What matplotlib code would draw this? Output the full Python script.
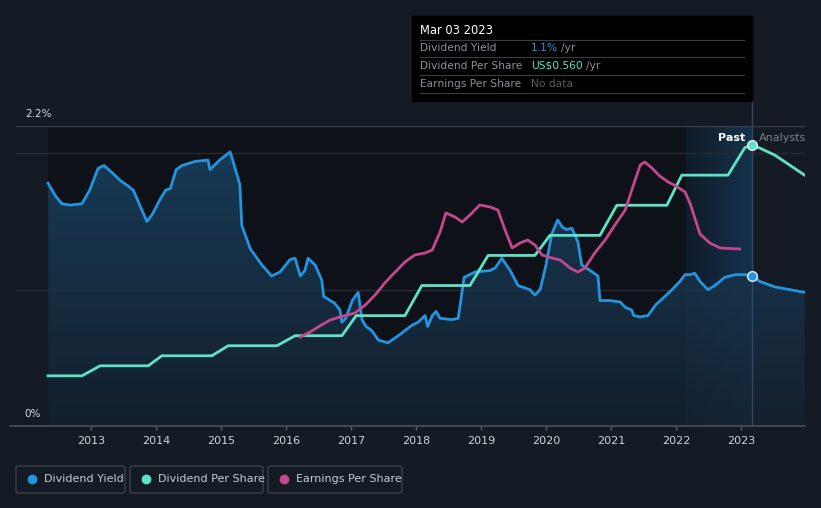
import matplotlib.pyplot as plt
import numpy as np
from matplotlib.patches import FancyBboxPatch, Rectangle

# dividend yield (%), decimal years
yield_x = [2012.34, 2012.45, 2012.55, 2012.68, 2012.86, 2012.98, 2013.11, 2013.20, 2013.32, 2013.45,
           2013.57, 2013.65, 2013.75, 2013.86, 2013.94, 2014.06, 2014.15, 2014.22, 2014.31, 2014.40,
           2014.60, 2014.80, 2014.83, 2014.98, 2015.14, 2015.18, 2015.29, 2015.32, 2015.45, 2015.63,
           2015.78, 2015.91, 2016.06, 2016.14, 2016.22, 2016.29, 2016.34, 2016.45, 2016.55, 2016.58,
           2016.75, 2016.83, 2016.86, 2016.92, 2017.02, 2017.11, 2017.17, 2017.23, 2017.32, 2017.42,
           2017.57, 2017.75, 2017.94, 2018.03, 2018.14, 2018.18, 2018.25, 2018.31, 2018.37, 2018.55,
           2018.65, 2018.74, 2018.91, 2019.14, 2019.22, 2019.32, 2019.45, 2019.57, 2019.75, 2019.83,
           2019.91, 2020.00, 2020.09, 2020.18, 2020.25, 2020.31, 2020.40, 2020.49, 2020.55, 2020.68,
           2020.80, 2020.83, 2020.98, 2021.14, 2021.22, 2021.32, 2021.35, 2021.45, 2021.57, 2021.69,
           2021.83, 2021.94, 2022.06, 2022.14, 2022.22, 2022.29, 2022.37, 2022.49, 2022.60, 2022.75,
           2022.91, 2023.06, 2023.17, 2023.29, 2023.52, 2023.75, 2023.98]
yield_y = [1.78, 1.69, 1.63, 1.62, 1.63, 1.73, 1.89, 1.91, 1.86, 1.80,
           1.76, 1.73, 1.62, 1.50, 1.55, 1.66, 1.73, 1.74, 1.88, 1.91,
           1.94, 1.95, 1.88, 1.95, 2.01, 1.95, 1.77, 1.47, 1.30, 1.18,
           1.10, 1.13, 1.22, 1.23, 1.10, 1.14, 1.23, 1.18, 1.07, 0.95,
           0.90, 0.85, 0.76, 0.79, 0.92, 0.98, 0.78, 0.73, 0.70, 0.63,
           0.61, 0.67, 0.74, 0.76, 0.81, 0.73, 0.81, 0.84, 0.79, 0.78,
           0.79, 1.09, 1.13, 1.14, 1.16, 1.23, 1.14, 1.03, 1.00, 0.96,
           1.00, 1.18, 1.41, 1.51, 1.46, 1.44, 1.45, 1.35, 1.18, 1.14,
           1.10, 0.92, 0.92, 0.91, 0.87, 0.85, 0.81, 0.80, 0.81, 0.89,
           0.95, 1.00, 1.06, 1.11, 1.11, 1.12, 1.06, 1.00, 1.03, 1.09,
           1.11, 1.11, 1.10, 1.06, 1.02, 1.00, 0.98]

# dividend per share (US$)
dps_x = [2012.34, 2012.86, 2013.14, 2013.88, 2014.09, 2014.86, 2015.11, 2015.86, 2016.14, 2016.86,
         2017.08, 2017.83, 2018.09, 2018.83, 2019.11, 2019.83, 2020.06, 2020.83, 2021.09, 2021.86,
         2022.09, 2022.80, 2023.06, 2023.17, 2023.29, 2023.52, 2023.75, 2023.98]
dps_y = [0.10, 0.10, 0.12, 0.12, 0.14, 0.14, 0.16, 0.16, 0.18, 0.18,
         0.22, 0.22, 0.28, 0.28, 0.34, 0.34, 0.38, 0.38, 0.44, 0.44,
         0.50, 0.50, 0.555, 0.56, 0.554, 0.54, 0.52, 0.50]

# earnings per share (US$)
eps_x = [2016.22, 2016.37, 2016.52, 2016.68, 2016.83, 2017.06, 2017.22, 2017.37, 2017.52, 2017.68,
         2017.83, 2017.98, 2018.14, 2018.25, 2018.37, 2018.46, 2018.60, 2018.71, 2018.83, 2018.98,
         2019.14, 2019.26, 2019.37, 2019.48, 2019.60, 2019.72, 2019.83, 2019.94, 2020.09, 2020.22,
         2020.37, 2020.49, 2020.60, 2020.75, 2020.91, 2021.06, 2021.22, 2021.32, 2021.45, 2021.52,
         2021.63, 2021.75, 2021.88, 2022.00, 2022.14, 2022.22, 2022.37, 2022.52, 2022.68, 2022.98]
eps_y = [0.445, 0.47, 0.50, 0.53, 0.545, 0.565, 0.605, 0.655, 0.715, 0.77,
         0.82, 0.855, 0.865, 0.88, 0.97, 1.065, 1.045, 1.02, 1.055, 1.105,
         1.095, 1.08, 0.98, 0.89, 0.915, 0.93, 0.905, 0.855, 0.84, 0.83,
         0.79, 0.77, 0.79, 0.865, 0.93, 1.005, 1.08, 1.18, 1.305, 1.32,
         1.29, 1.25, 1.22, 1.20, 1.17, 1.11, 0.96, 0.915, 0.89, 0.885]

years = list(range(2013, 2024))
now = 2023.17
past_start = 2022.15

BG = '#151b24'
BLUE = '#2394df'
TEAL = '#5fe3c8'
PINK = '#c4488c'

W, H = 821, 508
fig = plt.figure(figsize=(W / 100, H / 100), dpi=100, facecolor=BG)


def px(x, y):
    return x / W, 1 - y / H


x0, x1 = 2011.846, 2023.985
ax = fig.add_axes([16 / W, (H - 426) / H, (805 - 16) / W, 300 / H])
ax.set_facecolor(BG)
ax.set_xlim(x0, x1)
ax.set_ylim(0, 2.2)

# dark area for history, lighter highlight for last year
ax.add_patch(Rectangle((yield_x[0], 0), past_start - yield_x[0], 2.2, color='#0e1117', zorder=0, lw=0))
grad = np.linspace(0, 1, 100).reshape(1, -1)
ax.imshow(grad, extent=[past_start, now, 0, 2.2], aspect='auto',
          cmap=plt.matplotlib.colors.LinearSegmentedColormap.from_list('p', ['#101c28', '#15324c']),
          zorder=0.5)

for g in [1.0, 2.0]:
    ax.axhline(g, color='#262c35', lw=1, zorder=1)
ax.axhline(2.2, color='#3b4049', lw=1, zorder=1)

# gradient fill under yield
poly = ax.fill_between(yield_x, yield_y, 0, color='none', lw=0)
vgrad = np.linspace(0, 1, 100).reshape(-1, 1)
im = ax.imshow(vgrad, extent=[yield_x[0], yield_x[-1], 0, 2.2], origin='lower', aspect='auto',
               cmap=plt.matplotlib.colors.LinearSegmentedColormap.from_list('f', ['#152231', '#1a4565']),
               alpha=0.85, zorder=1.5)
im.set_clip_path(poly.get_paths()[0], transform=ax.transData)
ax.set_xlim(x0, x1)
ax.set_ylim(0, 2.2)

ax.axvline(now, ymin=0, ymax=1.08, color='#2c4a63', lw=1, zorder=2, clip_on=False)

ax.plot(yield_x, yield_y, color=BLUE, lw=2, zorder=3, solid_joinstyle='round')
ax.plot([now], [1.10], 'o', ms=7, color=BLUE, mec='#e8eef5', mew=1, zorder=6)

ax2 = ax.twinx()
ax2.set_ylim(0, 0.598)
ax2.plot(dps_x, dps_y, color=TEAL, lw=2, zorder=4, solid_joinstyle='round')
ax2.plot([now], [0.56], 'o', ms=7, color=TEAL, mec='#e8eef5', mew=1, zorder=6)

ax3 = ax.twinx()
ax3.set_ylim(0, 1.5)
ax3.plot(eps_x, eps_y, color=PINK, lw=2, zorder=4, solid_joinstyle='round')

for a in (ax, ax2, ax3):
    a.set_xlim(x0, x1)
    for s in a.spines.values():
        s.set_visible(False)
    a.set_yticks([])
ax2.set_xticks([])
ax3.set_xticks([])

ax.set_xticks(years)
ax.set_xticklabels([str(y) for y in years])
ax.tick_params(axis='x', colors='#5a5f68', labelcolor='#d0d4da', labelsize=8, length=3, width=1, pad=4)
ax.plot([2011.75, x1], [0, 0], color='#4a4f58', lw=1.2, clip_on=False, zorder=5)

fig.text(*px(25, 114), '2.2%', color='#d8dce2', fontsize=7.5, va='center', ha='left')
fig.text(*px(24, 414), '0%', color='#d8dce2', fontsize=7.5, va='center', ha='left')
fig.text(*px(745, 138), 'Past', color='white', fontsize=8, va='center', ha='right', fontweight='bold')
fig.text(*px(759, 138), 'Analysts', color='#7c818a', fontsize=8, va='center', ha='left')

# tooltip
fig.patches.append(Rectangle(px(412, 101), 340 / W, 85 / H, transform=fig.transFigure, color='#000000', zorder=10))
fig.text(*px(420, 31), 'Mar 03 2023', color='white', fontsize=8.3, va='center', zorder=11)
rows = [('Dividend Yield', '1.1%', BLUE), ('Dividend Per Share', 'US$0.560', TEAL), ('Earnings Per Share', 'No data', None)]
for i, (lab, val, col) in enumerate(rows):
    y = 48 + i * 18
    fig.text(*px(420, y), lab, color='#8c9099', fontsize=7.7, va='center', zorder=11)
    if col:
        t = fig.text(*px(531, y), val, color=col, fontsize=7.7, va='center', zorder=11)
        fig.canvas.draw()
        bb = t.get_window_extent()
        fig.text(bb.x1 / W + 3 / W, 1 - y / H, '/yr', color='#8c9099', fontsize=7.7, va='center', zorder=11)
    else:
        fig.text(*px(531, y), val, color='#5a5e66', fontsize=7.7, va='center', zorder=11)
for y in [40, 57, 75, 93]:
    fig.add_artist(plt.Line2D([420 / W, 744 / W], [1 - y / H] * 2, color='#3a3d44', lw=0.8, zorder=11))

# legend boxes
legend = [('Dividend Yield', BLUE, 16, 125), ('Dividend Per Share', TEAL, 130, 263), ('Earnings Per Share', PINK, 268, 402)]
for lab, col, l, r in legend:
    fig.patches.append(FancyBboxPatch(px(l, 493), (r - l) / W, 27 / H, boxstyle='round,pad=0,rounding_size=0.004',
                                      transform=fig.transFigure, fc='none', ec='#3d424b', lw=1))
    fig.add_artist(plt.Line2D([(l + 16) / W], [1 - 479 / H], marker='o', ms=6, color=col, lw=0))
    fig.text((l + 28) / W, 1 - 479 / H, lab, color='#c8ccd2', fontsize=8, va='center')

fig.savefig('out.png', dpi=100, facecolor=BG)
